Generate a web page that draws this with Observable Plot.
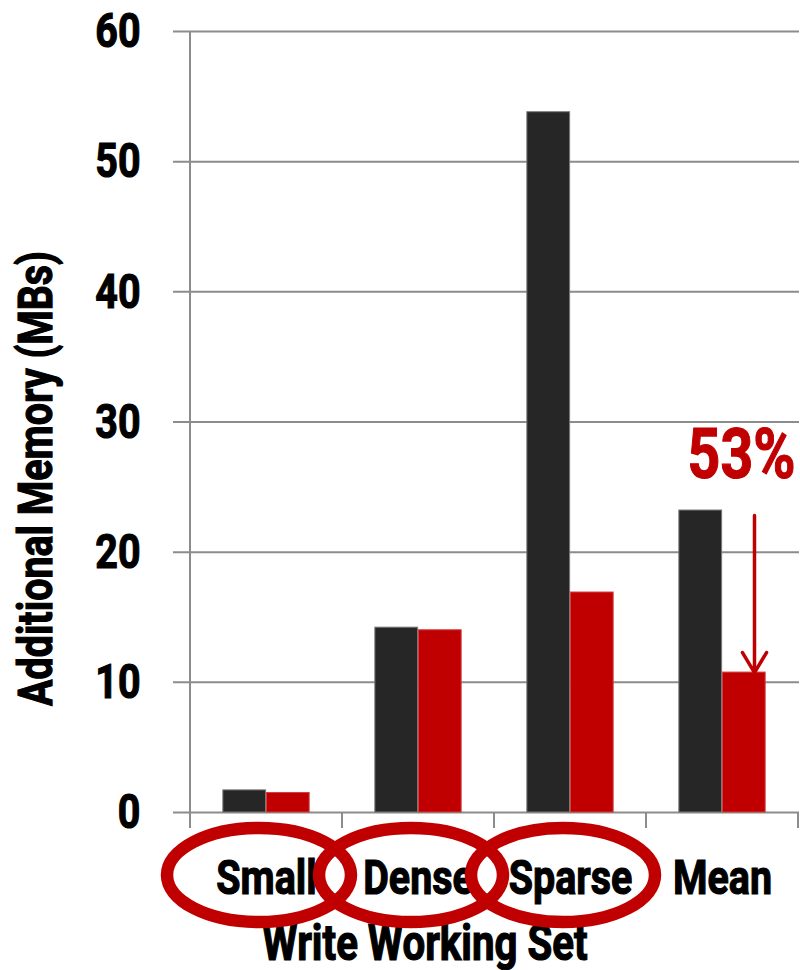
<!DOCTYPE html>
<html><head><meta charset="utf-8">
<script src="https://cdn.jsdelivr.net/npm/d3@7"></script>
<script src="https://cdn.jsdelivr.net/npm/@observablehq/plot@0.6"></script>
<style>
body{margin:0;background:#fff}
#chart svg{display:block}
</style></head><body><div id="chart"></div>
<script>
// ---- data ----
const categories = ["Small", "Dense", "Sparse", "Mean"];
const baseline = [1.7, 14.2, 53.8, 23.2];    // dark bars
const improved = [1.5, 14.0, 16.9, 10.75];   // red bars
const yTicks = [0, 10, 20, 30, 40, 50, 60];
const yLabel = "Additional Memory (MBs)";
const xLabel = "Write Working Set";
const circled = ["Small", "Dense", "Sparse"];
const calloutCategory = "Mean";
const calloutText = "53%";

// ---- layout ----
const W = 800, H = 970, mL = 188, mR = 1, mT = 31, mB = 158;
const band = (W - mL - mR) / categories.length;
const barW = band * 0.285;
const groupOff = (band - 2 * barW) / 2;
const FONT = 'Roboto,"Noto Sans",sans-serif';
const RED = "#C00000", BLACK = "#262626", GRID = "#8c8c8c";
const FS = 49;

const rows = categories.map((c, i) => ({cat: c, base: baseline[i], imp: improved[i]}));
const ci = categories.indexOf(calloutCategory);
const callout = [{cat: calloutCategory, from: baseline[ci], to: improved[ci], text: calloutText}];

const chart = Plot.plot({
  width: W, height: H,
  marginLeft: mL, marginRight: mR, marginTop: mT, marginBottom: mB,
  style: {fontFamily: FONT, background: "white", overflow: "visible"},
  x: {domain: categories, padding: 0, axis: null},
  y: {domain: [0, 60], axis: null},
  marks: [
    Plot.ruleY(yTicks, {stroke: GRID, strokeWidth: 2, insetLeft: -15}),
    Plot.barY(rows, {x: "cat", y: "base", fill: BLACK, stroke: "#7a7a7a", strokeWidth: 1,
      insetLeft: groupOff, insetRight: band - groupOff - barW}),
    Plot.barY(rows, {x: "cat", y: "imp", fill: RED, stroke: "#d04040", strokeWidth: 1,
      insetLeft: groupOff + barW, insetRight: groupOff}),
    Plot.text(yTicks, {y: d => d, text: d => String(d), frameAnchor: "left", dx: -48,
      textAnchor: "end", lineAnchor: "middle", fontSize: FS, fontWeight: "bold", fill: "black"}),
    Plot.text(categories, {x: d => d, text: d => d, frameAnchor: "bottom", dy: 81,
      lineAnchor: "bottom", fontSize: FS, fontWeight: "bold", fill: "black"}),
    Plot.arrow(callout, {x1: "cat", x2: "cat", y1: "from", y2: "to", dx: 32,
      stroke: RED, strokeWidth: 3.5, headAngle: 62, headLength: 10, insetStart: 5}),
    Plot.text(callout, {x: "cat", y: "from", text: "text", dx: 19, dy: -33, lineAnchor: "bottom",
      fontSize: 71, fontWeight: "bold", fill: RED})
  ]
});

document.getElementById("chart").appendChild(chart);

// ---- extra axis pieces & annotations drawn from the plot's own scales ----
const svg = d3.select(chart);
const xs = chart.scale("x"), ys = chart.scale("y");
const bw = xs.bandwidth;
const y0 = ys.apply(0), yTop = ys.apply(60);
const g = svg.append("g");
// vertical axis line
g.append("line").attr("x1", xs.apply(categories[0])).attr("x2", xs.apply(categories[0]))
  .attr("y1", yTop).attr("y2", y0 + 16).attr("stroke", GRID).attr("stroke-width", 2);
// category boundary ticks
const bounds = categories.map(c => xs.apply(c)).concat([xs.apply(categories[categories.length - 1]) + bw]);
bounds.forEach(bx => g.append("line").attr("x1", bx).attr("x2", bx).attr("y1", y0).attr("y2", y0 + 16)
  .attr("stroke", GRID).attr("stroke-width", 2));
// y-axis label
g.append("text").attr("transform", `translate(52,${(yTop + y0) / 2 + 57}) rotate(-90)`)
  .attr("text-anchor", "middle").attr("font-family", FONT).attr("font-size", 49).attr("font-weight", "bold")
  .attr("fill", "black").text(yLabel);
// x-axis title
g.append("text").attr("x", 425).attr("y", 960)
  .attr("text-anchor", "middle").attr("font-family", FONT).attr("font-size", 50).attr("font-weight", "bold")
  .attr("fill", "black").text(xLabel);

// condense every text horizontally (the original uses a condensed bold face) and thicken strokes
const probe = g.append("text").attr("font-family", FONT).attr("font-size", FS).attr("font-weight", "bold").text("Mean");
const k = 99 / probe.node().getComputedTextLength();
probe.remove();
svg.selectAll("text").each(function () {
  const L = this.getComputedTextLength();
  this.setAttribute("textLength", L * k);
  this.setAttribute("lengthAdjust", "spacingAndGlyphs");
  const fill = this.getAttribute("fill") || (this.parentNode && this.parentNode.getAttribute("fill")) || "black";
  this.setAttribute("stroke", fill);
  this.setAttribute("stroke-width", 1.2);
});

// ellipses around circled categories (drawn over the labels)
circled.forEach(c => g.append("ellipse")
  .attr("cx", xs.apply(c) + bw / 2 - 7).attr("cy", y0 + 63)
  .attr("rx", 92).attr("ry", 47)
  .attr("fill", "none").attr("stroke", RED).attr("stroke-width", 12.5));
</script>
</body></html>
